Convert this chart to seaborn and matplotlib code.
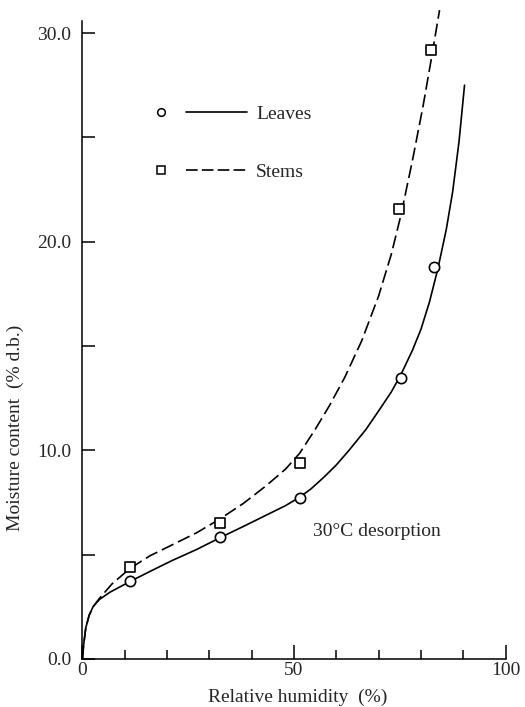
import numpy as np
import pandas as pd
import matplotlib
matplotlib.use("Agg")
import matplotlib.pyplot as plt
from matplotlib.lines import Line2D
from matplotlib.legend_handler import HandlerBase
from matplotlib.ticker import MultipleLocator, FixedLocator, FixedFormatter
import seaborn as sns

# ---------------- data ----------------
leaves_rh = [11.3, 32.4, 51.3, 75.2, 83.1]
leaves_mc = [3.74, 5.83, 7.73, 13.45, 18.8]
stems_rh = [11.3, 32.4, 51.3, 74.7, 82.4]
stems_mc = [4.42, 6.53, 9.38, 21.55, 29.2]

leaves_curve_rh = [0, 0.3, 0.8, 1.6, 2.5, 4, 6.5, 11.3, 16, 21, 27, 32.4, 38, 43,
                   48, 51.3, 54, 57, 60, 63, 67, 70.2, 73, 75.2, 78, 80, 82, 84,
                   86, 87.5, 89, 90.3]
leaves_curve_mc = [0, 0.7, 1.5, 2.1, 2.5, 2.85, 3.2, 3.72, 4.2, 4.7, 5.25, 5.8, 6.35,
                   6.85, 7.35, 7.75, 8.15, 8.7, 9.3, 10.0, 11.0, 11.95, 12.8, 13.6,
                   14.8, 15.8, 17.1, 18.7, 20.6, 22.4, 24.8, 27.5]
stems_curve_rh = [0, 0.3, 0.8, 1.6, 2.5, 4, 7, 11.3, 16, 21, 27, 32.4, 38, 43.4, 48,
                  51.3, 55, 58.4, 62, 66, 70, 73, 75.3, 78, 80.5, 82.4, 84.4]
stems_curve_mc = [0, 0.7, 1.5, 2.1, 2.5, 2.9, 3.6, 4.35, 4.95, 5.45, 6.05, 6.7, 7.45,
                  8.3, 9.1, 9.85, 11.0, 12.15, 13.5, 15.25, 17.4, 19.4, 21.3, 23.9,
                  26.5, 28.7, 31.1]

x_major = [0, 50, 100]
x_major_labels = ["0", "50", "100"]
y_major = [0, 10, 20, 30]
y_major_labels = ["0.0", "10.0", "20.0", "30.0"]

series_labels = ["Leaves", "Stems"]
annotation = "30°C desorption"
xlabel = "Relative humidity  (%)"
ylabel = "Moisture content  (% d.b.)"

# ---------------- style ----------------
sns.set_style("ticks")
plt.rcParams["font.family"] = ["Liberation Serif", "DejaVu Serif"]
FS = 14

fig = plt.figure(figsize=(5.25, 7.07), dpi=100)
ax = fig.add_axes([0.157, 0.0679, 0.806, 0.9208])

LW = 1.2
DASH = (0, (7.8, 3.0))

df_lc = pd.DataFrame({"rh": leaves_curve_rh, "mc": leaves_curve_mc})
df_sc = pd.DataFrame({"rh": stems_curve_rh, "mc": stems_curve_mc})
df_lp = pd.DataFrame({"rh": leaves_rh, "mc": leaves_mc})
df_sp = pd.DataFrame({"rh": stems_rh, "mc": stems_mc})

sns.lineplot(data=df_lc, x="rh", y="mc", sort=False, estimator=None,
             color="black", linewidth=LW, ax=ax, zorder=2)
sns.lineplot(data=df_sc, x="rh", y="mc", sort=False, estimator=None,
             color="black", linewidth=LW, ax=ax, zorder=2)
ax.lines[-1].set_linestyle(DASH)

sns.scatterplot(data=df_lp, x="rh", y="mc", marker="o", s=55, color="white",
                edgecolor="black", linewidth=1.2, ax=ax, zorder=3)
sns.scatterplot(data=df_sp, x="rh", y="mc", marker="s", s=45, color="white",
                edgecolor="black", linewidth=1.2, ax=ax, zorder=3)

# ---------------- axes ----------------
ax.set_xlim(0, 100)
ax.set_ylim(0, 31.2)
sns.despine(ax=ax)
ax.spines["left"].set_bounds(0, 30.6)
for s in ("left", "bottom"):
    ax.spines[s].set_linewidth(1.1)
    ax.spines[s].set_color("black")

ax.xaxis.set_major_locator(FixedLocator(x_major))
ax.xaxis.set_major_formatter(FixedFormatter(x_major_labels))
ax.xaxis.set_minor_locator(MultipleLocator(10))
ax.yaxis.set_major_locator(FixedLocator(y_major))
ax.yaxis.set_major_formatter(FixedFormatter(y_major_labels))
ax.yaxis.set_minor_locator(MultipleLocator(5))

ax.tick_params(axis="x", which="major", direction="in", length=10, width=1.1,
               labelsize=FS, pad=2, color="black")
ax.tick_params(axis="x", which="minor", direction="in", length=6.5, width=1.1,
               color="black")
ax.tick_params(axis="y", which="both", direction="in", length=9, width=1.1,
               labelsize=FS, pad=8, color="black")

ax.set_xlabel(xlabel, fontsize=FS)
ax.set_ylabel(ylabel, fontsize=FS)
ax.xaxis.set_label_coords(0.508, -0.045)
ax.yaxis.set_label_coords(-0.137, 0.355)

ax.text(54.4, 5.9, annotation, fontsize=FS, va="baseline", ha="left")


# ---------------- legend: marker, gap, line ----------------
class MarkerGapLine(HandlerBase):
    def create_artists(self, legend, orig_handle, xdescent, ydescent, width,
                       height, fontsize, trans):
        y = height / 2 - ydescent
        x0 = -xdescent
        m = Line2D([x0 + 0.07 * width], [y], linestyle="none",
                   marker=orig_handle.get_marker(),
                   markersize=orig_handle.get_markersize(),
                   markerfacecolor="white", markeredgecolor="black",
                   markeredgewidth=orig_handle.get_markeredgewidth())
        ln = Line2D([x0 + 0.34 * width, x0 + width], [y, y])
        ln.update_from(orig_handle)
        ln.set_marker("None")
        m.set_transform(trans)
        ln.set_transform(trans)
        return [m, ln]


h_leaves = Line2D([], [], color="black", lw=LW, ls="-", marker="o",
                  markersize=5.5, markeredgewidth=1.1)
h_stems = Line2D([], [], color="black", lw=LW, ls=(0, (7.0, 2.5)), marker="s",
                 markersize=5.8, markeredgewidth=1.1)
leg = ax.legend([h_leaves, h_stems], series_labels,
                handler_map={Line2D: MarkerGapLine()},
                loc="upper left", bbox_to_anchor=(0.170, 0.851),
                frameon=False, fontsize=FS, handlelength=4.78,
                handletextpad=0.45, labelspacing=2.1, borderpad=0,
                borderaxespad=0)

fig.savefig("out.png", dpi=100)
